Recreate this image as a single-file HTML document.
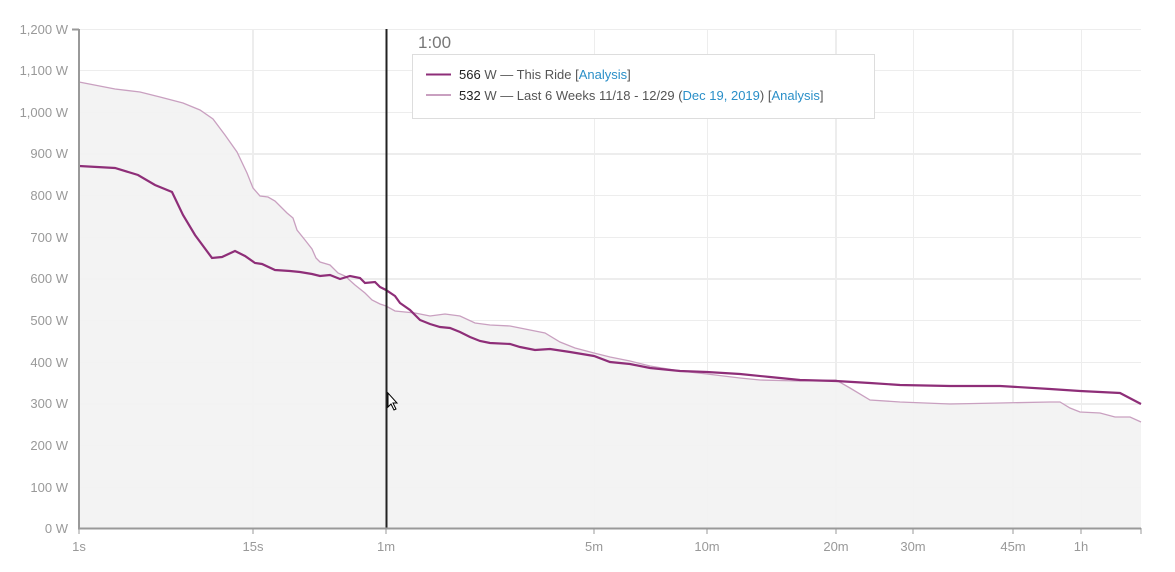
<!DOCTYPE html><html><head><style>body{margin:0;background:#fff;font-family:"Liberation Sans",sans-serif}</style></head><body>
<svg width="1175" height="567" xmlns="http://www.w3.org/2000/svg" font-family="Liberation Sans, sans-serif">
<g stroke="#ededed" stroke-width="1">
<line x1="79" x2="1141" y1="29.5" y2="29.5"/><line x1="79" x2="1141" y1="70.5" y2="70.5"/><line x1="79" x2="1141" y1="112.5" y2="112.5"/><line x1="79" x2="1141" y1="154" y2="154" stroke-width="2"/><line x1="79" x2="1141" y1="195.5" y2="195.5"/><line x1="79" x2="1141" y1="237.5" y2="237.5"/><line x1="79" x2="1141" y1="279" y2="279" stroke-width="2"/><line x1="79" x2="1141" y1="320.5" y2="320.5"/><line x1="79" x2="1141" y1="362.5" y2="362.5"/><line x1="79" x2="1141" y1="404" y2="404" stroke-width="2"/><line x1="79" x2="1141" y1="445.5" y2="445.5"/><line x1="79" x2="1141" y1="487.5" y2="487.5"/>
<line x1="253" x2="253" y1="29" y2="528" stroke-width="2"/><line x1="594.5" x2="594.5" y1="29" y2="528"/><line x1="707.5" x2="707.5" y1="29" y2="528"/><line x1="836" x2="836" y1="29" y2="528" stroke-width="2"/><line x1="913.5" x2="913.5" y1="29" y2="528"/><line x1="1013" x2="1013" y1="29" y2="528" stroke-width="2"/><line x1="1081.5" x2="1081.5" y1="29" y2="528"/>
</g>
<path fill="#f2f2f2" fill-opacity="0.9" d="M79,82 L115,89 140,92 160,97 183,103 200,110 213,119 225,135 237,152 247,173 253,188 260,196 268,197 275,201 287,213 293,218 297,230 305,240 312,249 316,258 320,262 330,265 338,273 345,276 355,285 365,293 372,300 380,304 386,306 395,311 405,312 415,313 430,316 445,314 460,316 475,323 490,325 510,326 530,330 545,333 560,342 575,348 594,353 610,357 630,361 650,366 680,371 707,374 740,378 760,380 800,381 836,380 850,388 870,400 900,402 950,404 1000,403 1050,402 1060,402 1070,408 1080,412 1100,413 1115,417 1130,417 1141,422 L1141,528 79,528Z"/>
<polyline fill="none" stroke="#c9a0c0" stroke-width="1.3" points="79,82 115,89 140,92 160,97 183,103 200,110 213,119 225,135 237,152 247,173 253,188 260,196 268,197 275,201 287,213 293,218 297,230 305,240 312,249 316,258 320,262 330,265 338,273 345,276 355,285 365,293 372,300 380,304 386,306 395,311 405,312 415,313 430,316 445,314 460,316 475,323 490,325 510,326 530,330 545,333 560,342 575,348 594,353 610,357 630,361 650,366 680,371 707,374 740,378 760,380 800,381 836,380 850,388 870,400 900,402 950,404 1000,403 1050,402 1060,402 1070,408 1080,412 1100,413 1115,417 1130,417 1141,422"/>
<polyline fill="none" stroke="#8e2e78" stroke-width="2.2" points="79,166 115,168 138,175 155,185 172,192 183,215 195,235 212,258 222,257 235,251 245,256 255,263 262,264 275,270 290,271 300,272 312,274 320,276 330,275 335,277 340,279 350,276 360,278 365,283 375,282 380,287 386,290 395,296 400,303 410,310 420,320 430,324 440,327 450,328 460,332 470,337 480,341 490,343 510,344 520,347 535,350 550,349 570,352 594,356 610,362 630,364 650,368 680,371 707,372 740,374 770,377 800,380 836,381 870,383 900,385 950,386 1000,386 1050,389 1080,391 1120,393 1141,404"/>
<line x1="386.5" x2="386.5" y1="29" y2="528" stroke="#222" stroke-width="2"/>
<g stroke="#999" stroke-width="2"><line x1="79" x2="79" y1="29" y2="529"/><line x1="78" x2="1141" y1="528.5" y2="528.5"/><line x1="72" x2="79" y1="29.5" y2="29.5"/></g>
<g stroke="#999" stroke-width="1"><line x1="79" x2="79" y1="528" y2="534"/><line x1="253" x2="253" y1="528" y2="534"/><line x1="386" x2="386" y1="528" y2="534"/><line x1="594" x2="594" y1="528" y2="534"/><line x1="707" x2="707" y1="528" y2="534"/><line x1="836" x2="836" y1="528" y2="534"/><line x1="913" x2="913" y1="528" y2="534"/><line x1="1013" x2="1013" y1="528" y2="534"/><line x1="1081" x2="1081" y1="528" y2="534"/><line x1="1141" x2="1141" y1="528" y2="534"/></g>
<g fill="#999" font-size="13" text-anchor="end">
<text x="68" y="34">1,200 W</text><text x="68" y="75">1,100 W</text><text x="68" y="117">1,000 W</text><text x="68" y="158">900 W</text><text x="68" y="200">800 W</text><text x="68" y="242">700 W</text><text x="68" y="283">600 W</text><text x="68" y="325">500 W</text><text x="68" y="367">400 W</text><text x="68" y="408">300 W</text><text x="68" y="450">200 W</text><text x="68" y="492">100 W</text><text x="68" y="533">0 W</text>
</g>
<g fill="#999" font-size="13" text-anchor="middle">
<text x="79" y="551">1s</text><text x="253" y="551">15s</text><text x="386" y="551">1m</text><text x="594" y="551">5m</text><text x="707" y="551">10m</text><text x="836" y="551">20m</text><text x="913" y="551">30m</text><text x="1013" y="551">45m</text><text x="1081" y="551">1h</text>
</g>
<text x="418" y="48" font-size="17" fill="#777">1:00</text>
<rect x="412.5" y="54.5" width="462" height="64" fill="#fff" stroke="#ddd"/>
<line x1="426" x2="451" y1="74.5" y2="74.5" stroke="#8e2e78" stroke-width="2"/>
<line x1="426" x2="451" y1="95" y2="95" stroke="#c9a0c0" stroke-width="2"/>
<text x="459" y="79" font-size="13" fill="#555"><tspan fill="#222">566</tspan> W — This Ride [<tspan fill="#2a8fc8">Analysis</tspan>]</text>
<text x="459" y="100" font-size="13" fill="#555"><tspan fill="#222">532</tspan> W — Last 6 Weeks 11/18 - 12/29 (<tspan fill="#2a8fc8">Dec 19, 2019</tspan>) [<tspan fill="#2a8fc8">Analysis</tspan>]</text>
<path d="M388,393 L388,407 391,404 394,410 396,409 393,403 397,403Z" fill="#fff" stroke="#000" stroke-width="1"/>
</svg>
</body></html>
